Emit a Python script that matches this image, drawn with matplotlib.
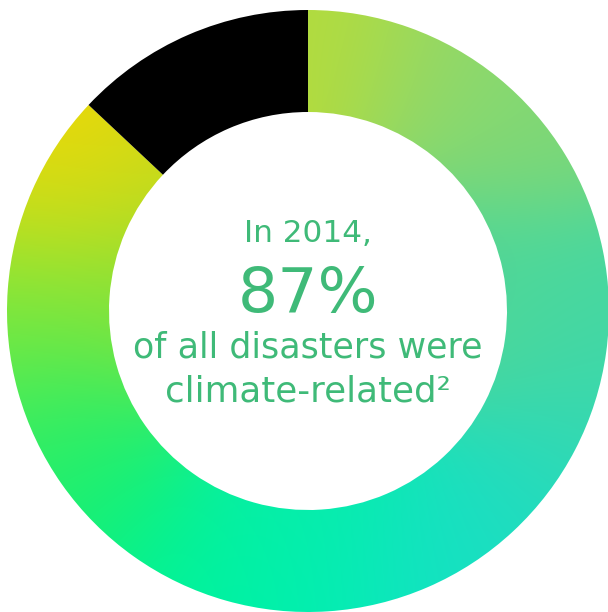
import numpy as np
import matplotlib
matplotlib.use("Agg")
import matplotlib.pyplot as plt

# ---- data ----
labels = ["Climate-related", "Other"]
values = [87, 13]
year = 2014
headline = f"In {year},"
big_number = f"{values[0]}%"
line1 = "of all disasters were"
line2 = "climate-related\u00b2"

W, H = 608, 612
fig = plt.figure(figsize=(W / 100, H / 100), dpi=100)
ax = fig.add_axes([0, 0, 1, 1])

cx, cy_img = 308, 311
R_out, ring_w = 301, 102

wedges, _ = ax.pie(values, startangle=90, counterclock=False, radius=R_out,
                   center=(cx, H - cy_img), colors=["none", "black"],
                   wedgeprops=dict(width=ring_w, linewidth=0))
ax.set_xlim(0, W)
ax.set_ylim(0, H)
ax.set_aspect("equal")
ax.axis("off")

# gradient fill for the climate-related slice (colour samples, image coords y down)
pts = np.array([
    (60, 120, 250, 214, 0),
    (40, 195, 205, 222, 24),
    (160, 165, 200, 218, 28),
    (325, 30, 180, 220, 60),
    (450, 60, 148, 216, 104),
    (530, 120, 124, 216, 120),
    (580, 310, 72, 216, 160),
    (600, 420, 56, 216, 176),
    (530, 510, 32, 220, 192),
    (430, 570, 20, 226, 196),
    (310, 580, 0, 240, 176),
    (200, 560, 0, 244, 156),
    (100, 490, 16, 240, 120),
    (58, 426, 56, 238, 96),
    (25, 310, 120, 232, 64),
    (470, 300, 80, 214, 150),
    (150, 300, 130, 226, 60),
    (300, 470, 10, 236, 170),
], dtype=float)
yy, xx = np.mgrid[0:H, 0:W]
sig = 70.0
num = np.zeros((H, W, 3))
den = np.zeros((H, W))
for px, py, r, g, b in pts:
    w = np.exp(-((xx - px) ** 2 + (yy - py) ** 2) / (2 * sig ** 2)) + 1e-12
    num += w[..., None] * np.array([r, g, b])
    den += w
img = np.clip(num / den[..., None] / 255.0, 0, 1)
im = ax.imshow(img, extent=(0, W, 0, H), origin="upper", zorder=0.5,
               interpolation="bilinear")
im.set_clip_path(wedges[0])

tc = "#3fba78"
fam = ["DejaVu Sans"]
specs = [(headline, 242, 128), (big_number, 312, 140),
         (line1, 357, 350), (line2, 402, 285)]
renderer = fig.canvas.get_renderer()
for s, base, target in specs:
    t = ax.text(cx, H - base, s, ha="center", va="baseline", fontsize=20,
                color=tc, family=fam, fontweight="normal")
    wpx = t.get_window_extent(renderer).width
    t.set_fontsize(20 * target / wpx)

fig.savefig("out.png", dpi=100)
